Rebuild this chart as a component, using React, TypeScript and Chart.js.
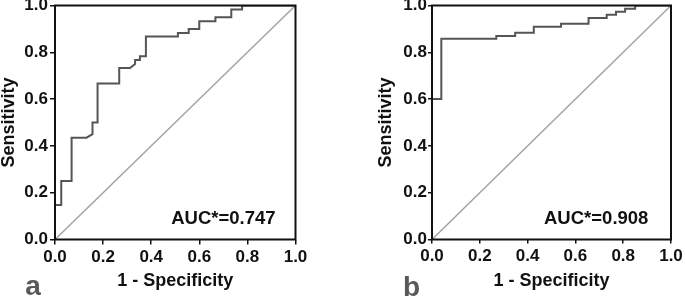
import React, { useEffect, useRef } from 'react';
import { Chart, registerables } from 'chart.js';
Chart.register(...registerables);

// ---- data ----
const AXIS_TICKS = [0, 0.2, 0.4, 0.6, 0.8, 1.0];
const refX = [0, 1];
const refY = [0, 1];

const aFpr = [0, 0, 0.026, 0.026, 0.069, 0.069, 0.131, 0.156, 0.156, 0.177, 0.177, 0.267, 0.267, 0.312, 0.333, 0.333, 0.353, 0.353, 0.378, 0.378, 0.511, 0.511, 0.556, 0.556, 0.6, 0.6, 0.667, 0.667, 0.733, 0.733, 0.778, 0.778, 1];
const aTpr = [0, 0.147, 0.147, 0.25, 0.25, 0.435, 0.435, 0.45, 0.5, 0.5, 0.667, 0.667, 0.733, 0.733, 0.75, 0.767, 0.767, 0.783, 0.783, 0.867, 0.867, 0.883, 0.883, 0.9, 0.9, 0.933, 0.933, 0.95, 0.95, 0.983, 0.983, 1, 1];

const bFpr = [0, 0, 0.039, 0.039, 0.269, 0.269, 0.348, 0.348, 0.426, 0.426, 0.54, 0.54, 0.655, 0.655, 0.731, 0.731, 0.77, 0.77, 0.808, 0.808, 0.85, 0.85, 1];
const bTpr = [0, 0.6, 0.6, 0.858, 0.858, 0.87, 0.87, 0.884, 0.884, 0.909, 0.909, 0.922, 0.922, 0.947, 0.947, 0.961, 0.961, 0.973, 0.973, 0.986, 0.986, 1, 1];

const aAucLabel = 'AUC*=0.747';
const bAucLabel = 'AUC*=0.908';
const xTitle = '1 - Specificity';
const yTitle = 'Sensitivity';

const FONT = "'Liberation Sans', Arial, Helvetica, sans-serif";

const toPoints = (xs: number[], ys: number[]) => xs.map((x, i) => ({ x, y: ys[i] }));

const decorPlugin = {
  id: 'decor',
  afterDatasetsDraw(chart: any, _args: any, opts: any) {
    const { ctx, chartArea } = chart;
    const { left, right, top, bottom } = chartArea;
    ctx.save();
    ctx.strokeStyle = '#111';
    ctx.lineWidth = 2;
    ctx.beginPath();
    ctx.moveTo(left, top);
    ctx.lineTo(right, top);
    ctx.lineTo(right, bottom);
    ctx.lineTo(left, bottom);
    ctx.closePath();
    ctx.stroke();

    const xs = chart.scales.x;
    const ys = chart.scales.y;
    ctx.fillStyle = '#111';
    ctx.font = `bold 18.5px ${FONT}`;
    ctx.textAlign = 'center';
    ctx.textBaseline = 'middle';
    ctx.fillText(opts.auc, xs.getPixelForValue(opts.aucX), ys.getPixelForValue(opts.aucY));

    ctx.fillStyle = '#595959';
    ctx.font = `bold 28px ${FONT}`;
    ctx.textAlign = 'center';
    ctx.textBaseline = 'alphabetic';
    ctx.fillText(opts.letter, opts.letterX, opts.letterY);
    ctx.restore();
  },
};

function makeConfig(p: any) {
  const tickFont = { family: FONT, size: 17, weight: 'bold' as const };
  const titleFont = { family: FONT, size: 18, weight: 'bold' as const, lineHeight: 1 };
  return {
    type: 'scatter' as const,
    data: {
      datasets: [
        {
          data: toPoints(refX, refY),
          showLine: true,
          borderColor: '#a3a3a3',
          borderWidth: 1.5,
          pointRadius: 0,
          fill: false,
          order: 2,
        },
        {
          data: toPoints(p.fpr, p.tpr),
          showLine: true,
          borderColor: '#555555',
          borderWidth: 2,
          pointRadius: 0,
          fill: false,
          order: 1,
        },
      ],
    },
    options: {
      responsive: false,
      animation: false,
      events: [],
      layout: { padding: p.padding },
      plugins: {
        legend: { display: false },
        tooltip: { enabled: false },
        decor: {
          auc: p.auc,
          aucX: p.aucX,
          aucY: p.aucY,
          letter: p.letter,
          letterX: p.letterX,
          letterY: p.letterY,
        },
      },
      scales: {
        x: {
          type: 'linear',
          min: 0,
          max: 1,
          afterBuildTicks: (s: any) => { s.ticks = AXIS_TICKS.map((v) => ({ value: v })); },
          afterFit: (s: any) => { s.height = 58.5; s.paddingLeft = 0; s.paddingRight = 0; },
          ticks: {
            color: '#111',
            font: tickFont,
            padding: 3,
            maxRotation: 0,
            autoSkip: false,
            callback: (v: any) => Number(v).toFixed(1),
          },
          grid: { drawOnChartArea: false, drawTicks: true, tickLength: p.tickLen, color: '#111', lineWidth: 1.5 },
          border: { display: false },
          title: { display: true, text: xTitle, color: '#111', font: titleFont, padding: { top: 0, bottom: 8 } },
        },
        y: {
          type: 'linear',
          min: 0,
          max: 1,
          afterBuildTicks: (s: any) => { s.ticks = AXIS_TICKS.map((v) => ({ value: v })); },
          afterFit: (s: any) => { s.width = p.yWidth; s.paddingTop = 0; s.paddingBottom = 0; },
          ticks: {
            color: '#111',
            font: tickFont,
            padding: p.tickPad,
            autoSkip: false,
            callback: (v: any) => Number(v).toFixed(1),
          },
          grid: { drawOnChartArea: false, drawTicks: true, tickLength: p.tickLen, color: '#111', lineWidth: 1.5 },
          border: { display: false },
          title: { display: true, text: yTitle, color: '#111', font: titleFont, padding: { top: 0, bottom: 0 } },
        },
      },
    },
    plugins: [decorPlugin],
  };
}

function RocPanel(props: any) {
  const ref = useRef<HTMLCanvasElement | null>(null);
  useEffect(() => {
    if (!ref.current) return;
    const chart = new Chart(ref.current, makeConfig(props.cfg) as any);
    return () => chart.destroy();
  }, []);
  return (
    <canvas
      ref={ref}
      width={props.width}
      height={298}
      style={{ position: 'absolute', left: props.left, top: 0, width: props.width, height: 298 }}
    />
  );
}

export default function App() {
  useEffect(() => {
    document.body.style.margin = '0';
  }, []);
  const left = {
    fpr: aFpr,
    tpr: aTpr,
    auc: aAucLabel,
    aucX: 0.70,
    aucY: 0.09,
    letter: 'a',
    letterX: 33,
    letterY: 295,
    padding: { left: 0, top: 5.5, right: 44.5, bottom: 0 },
    yWidth: 55,
    tickLen: 5,
    tickPad: 2,
  };
  const right = {
    fpr: bFpr,
    tpr: bTpr,
    auc: bAucLabel,
    aucX: 0.687,
    aucY: 0.09,
    letter: 'b',
    letterX: 71.5,
    letterY: 296,
    padding: { left: 37.5, top: 5.5, right: 14, bottom: 0 },
    yWidth: 54.5,
    tickLen: 4,
    tickPad: 1,
  };
  return (
    <div style={{ position: 'fixed', left: 0, top: 0, width: 685, height: 298, background: '#fff' }}>
      <RocPanel cfg={left} left={0} width={340} />
      <RocPanel cfg={right} left={340} width={345} />
    </div>
  );
}
